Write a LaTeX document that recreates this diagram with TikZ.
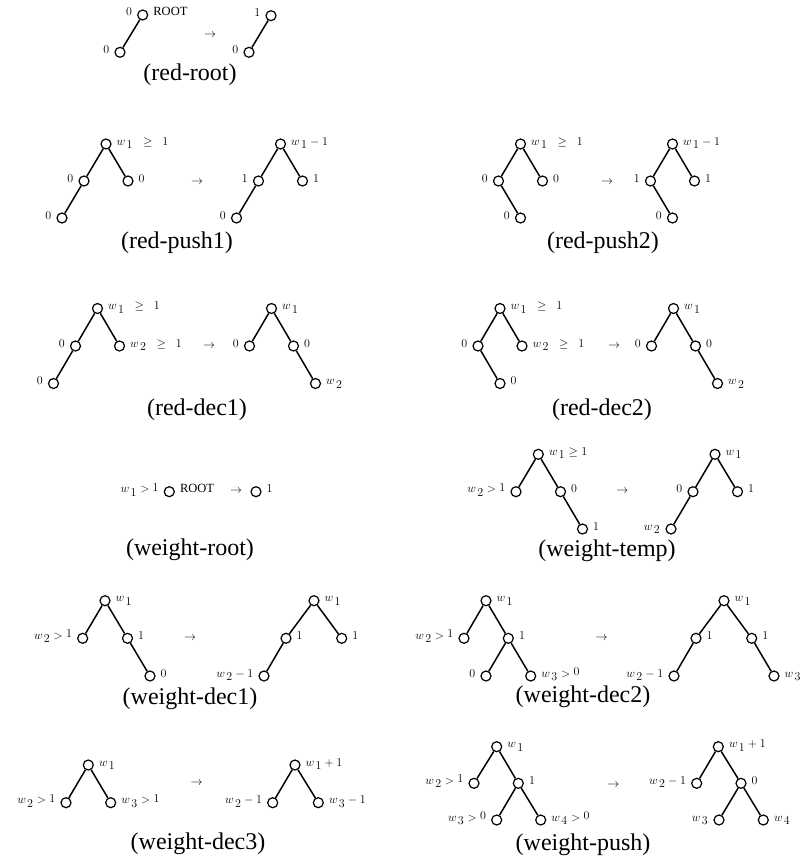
\documentclass[tikz,border=0pt]{standalone}
\usepackage{fontspec}
\setmainfont{Liberation Serif}
\newcommand\lblfont{\fontsize{13}{15}\selectfont}
\newcommand\arrfont{\fontsize{13}{15}\selectfont}
\newcommand\capfont{\fontsize{24}{28}\selectfont}
\newcommand\rootfont{\fontsize{12.5}{14}\selectfont}
\newcommand\ww[1]{w_{\,\textstyle #1}}
\newcommand\rs[1]{\raisebox{1.5pt}{$#1$}}
\tikzset{
 vtxst/.style={circle,draw,line width=1.2pt,minimum size=10pt,inner sep=0pt},
 edg/.style={line width=1.5pt},
 lr/.style={anchor=base west,inner sep=0pt,font=\lblfont},
 ll/.style={anchor=base east,inner sep=0pt,font=\lblfont},
 arr/.style={inner sep=0pt,font=\arrfont},
 captxt/.style={inner sep=0pt,font=\capfont},
}
\newcommand\vtx[2]{\node[vtxst] (#1) at (#2) {};}
\newcommand\labR[2]{\node[lr] (#1R) at ([xshift=10.5pt,yshift=-1pt]#1.center) {#2};}
\newcommand\labL[2]{\node[ll] (#1L) at ([xshift=-10.5pt,yshift=-1pt]#1.center) {#2};}
\begin{document}
\begin{tikzpicture}[x=1pt,y=-1pt]
\useasboundingbox (0,0) rectangle (806,859);
% ---------- red-root
\vtx{ra}{142.7,15} \vtx{rb}{120,52.3}
\labL{ra}{$0$} \labR{ra}{\rootfont ROOT} \labL{rb}{$0$}
\draw[edg] (rb) -- (ra);
\node[arr] (rarr) at (210,35) {$\rightarrow$};
\vtx{sa}{271,15.7} \vtx{sb}{249,52.3}
\labL{sa}{$1$} \labL{sb}{$0$}
\draw[edg] (sb) -- (sa);
\node[captxt] (rcap) at (190,75) {(red-root)};
% ---------- red-push1
\vtx{pa}{106,144} \vtx{pb}{84,181} \vtx{pc}{128,181} \vtx{pd}{62,218}
\labR{pa}{$\ww1\;\;\geq\;\;1$} \labL{pb}{$0$} \labR{pc}{$0$} \labL{pd}{$0$}
\draw[edg] (pa) -- (pb); \draw[edg] (pa) -- (pc); \draw[edg] (pb) -- (pd);
\node[arr] (parr) at (197,182) {$\rightarrow$};
\vtx{qa}{280.5,144} \vtx{qb}{258.5,181} \vtx{qc}{302.5,181} \vtx{qd}{236.5,218}
\labR{qa}{$\ww1-1$} \labL{qb}{$1$} \labR{qc}{$1$} \labL{qd}{$0$}
\draw[edg] (qa) -- (qb); \draw[edg] (qa) -- (qc); \draw[edg] (qb) -- (qd);
\node[captxt] (pcap) at (177,243) {(red-push1)};
% ---------- red-push2
\vtx{ta}{520.5,144} \vtx{tb}{498.5,181} \vtx{tc}{542.5,181} \vtx{td}{520.5,218}
\labR{ta}{$\ww1\;\;\geq\;\;1$} \labL{tb}{$0$} \labR{tc}{$0$} \labL{td}{$0$}
\draw[edg] (ta) -- (tb); \draw[edg] (ta) -- (tc); \draw[edg] (tb) -- (td);
\node[arr] (tarr) at (607,182) {$\rightarrow$};
\vtx{ua}{672.5,144} \vtx{ub}{650.5,181} \vtx{uc}{694.5,181} \vtx{ud}{672.5,218}
\labR{ua}{$\ww1-1$} \labL{ub}{$1$} \labR{uc}{$1$} \labL{ud}{$0$}
\draw[edg] (ua) -- (ub); \draw[edg] (ua) -- (uc); \draw[edg] (ub) -- (ud);
\node[captxt] (tcap) at (603,243) {(red-push2)};
% ---------- red-dec1
\vtx{da}{97.5,308.5} \vtx{db}{75.5,346} \vtx{dc}{119.5,346} \vtx{dd}{53.5,383.5}
\labR{da}{$\ww1\;\;\geq\;\;1$} \labL{db}{$0$} \labR{dc}{$\ww2\;\;\geq\;\;1$} \labL{dd}{$0$}
\draw[edg] (da) -- (db); \draw[edg] (da) -- (dc); \draw[edg] (db) -- (dd);
\node[arr] (darr) at (209,346) {$\rightarrow$};
\vtx{ea}{271.5,308.5} \vtx{eb}{249.5,346} \vtx{ec}{293.5,346} \vtx{ed}{315.5,383.5}
\labR{ea}{$\ww1$} \labL{eb}{$0$} \labR{ec}{$0$} \labR{ed}{$\ww2$}
\draw[edg] (ea) -- (eb); \draw[edg] (ea) -- (ec); \draw[edg] (ec) -- (ed);
\node[captxt] (dcap) at (197,410) {(red-dec1)};
% ---------- red-dec2
\vtx{fa}{500,308.5} \vtx{fb}{478,346} \vtx{fc}{522,346} \vtx{fd}{500,383.5}
\labR{fa}{$\ww1\;\;\geq\;\;1$} \labL{fb}{$0$} \labR{fc}{$\ww2\;\;\geq\;\;1$} \labR{fd}{$0$}
\draw[edg] (fa) -- (fb); \draw[edg] (fa) -- (fc); \draw[edg] (fb) -- (fd);
\node[arr] (farr) at (614,346) {$\rightarrow$};
\vtx{ga}{673.5,308.5} \vtx{gb}{651.5,346} \vtx{gc}{695.5,346} \vtx{gd}{717.5,383.5}
\labR{ga}{$\ww1$} \labL{gb}{$0$} \labR{gc}{$0$} \labR{gd}{$\ww2$}
\draw[edg] (ga) -- (gb); \draw[edg] (ga) -- (gc); \draw[edg] (gc) -- (gd);
\node[captxt] (fcap) at (602,410) {(red-dec2)};
% ---------- weight-root
\vtx{wa}{169.3,491.7}
\labL{wa}{$\ww1 > \rs1$} \labR{wa}{\rootfont ROOT}
\node[arr] (warr) at (236,491.7) {$\rightarrow$};
\vtx{xa}{256,491.7}
\labR{xa}{$1$}
\node[captxt] (wcap) at (190,550) {(weight-root)};
% ---------- weight-temp
\vtx{ha}{538.3,454.3} \vtx{hb}{516,491.7} \vtx{hc}{560.5,491.7} \vtx{hd}{582.5,529}
\labR{ha}{$\ww1\geq 1$} \labL{hb}{$\ww2 > \rs1$} \labR{hc}{$0$} \labR{hd}{$1$}
\draw[edg] (ha) -- (hb); \draw[edg] (ha) -- (hc); \draw[edg] (hc) -- (hd);
\node[arr] (harr) at (622.3,491.7) {$\rightarrow$};
\vtx{ia}{715,454.3} \vtx{ib}{693,491.7} \vtx{ic}{737.5,491.7} \vtx{id}{671,529}
\labR{ia}{$\ww1$} \labL{ib}{$0$} \labR{ic}{$1$} \labL{id}{$\ww2$}
\draw[edg] (ia) -- (ib); \draw[edg] (ia) -- (ic); \draw[edg] (ib) -- (id);
\node[captxt] (hcap) at (607,551) {(weight-temp)};
% ---------- weight-dec1
\vtx{ja}{105,600.7} \vtx{jb}{82.7,638.3} \vtx{jc}{127.5,638.3} \vtx{jd}{150,676}
\labR{ja}{$\ww1$} \labL{jb}{$\ww2 > \rs1$} \labR{jc}{$1$} \labR{jd}{$0$}
\draw[edg] (ja) -- (jb); \draw[edg] (ja) -- (jc); \draw[edg] (jc) -- (jd);
\node[arr] (jarr) at (190,638.3) {$\rightarrow$};
\vtx{ka}{314,600.7} \vtx{kb}{286,638.3} \vtx{kc}{341.7,638.3} \vtx{kd}{264,676}
\labR{ka}{$\ww1$} \labR{kb}{$1$} \labR{kc}{$1$} \labL{kd}{$\ww2-1$}
\draw[edg] (ka) -- (kb); \draw[edg] (ka) -- (kc); \draw[edg] (kb) -- (kd);
\node[captxt] (jcap) at (190,699) {(weight-dec1)};
% ---------- weight-dec2
\vtx{la}{486,600.7} \vtx{lb}{464,638.3} \vtx{lc}{508.3,638.3} \vtx{ld}{486,676} \vtx{le}{530.7,676}
\labR{la}{$\ww1$} \labL{lb}{$\ww2 > \rs1$} \labR{lc}{$1$} \labL{ld}{$0$} \labR{le}{$\ww3 > \rs0$}
\draw[edg] (la) -- (lb); \draw[edg] (la) -- (lc); \draw[edg] (lc) -- (ld); \draw[edg] (lc) -- (le);
\node[arr] (larr) at (601.7,638.3) {$\rightarrow$};
\vtx{ma}{724,600.7} \vtx{mb}{696,638.3} \vtx{mc}{751.7,638.3} \vtx{md}{674,676} \vtx{me}{774,676}
\labR{ma}{$\ww1$} \labR{mb}{$1$} \labR{mc}{$1$} \labL{md}{$\ww2-1$} \labR{me}{$\ww3$}
\draw[edg] (ma) -- (mb); \draw[edg] (ma) -- (mc); \draw[edg] (mb) -- (md); \draw[edg] (mc) -- (me);
\node[captxt] (lcap) at (583,697) {(weight-dec2)};
% ---------- weight-dec3
\vtx{na}{88.3,765} \vtx{nb}{66,802.7} \vtx{nc}{110.7,802.7}
\labR{na}{$\ww1$} \labL{nb}{$\ww2 > \rs1$} \labR{nc}{$\ww3 > \rs1$}
\draw[edg] (na) -- (nb); \draw[edg] (na) -- (nc);
\node[arr] (narr) at (196.7,783.3) {$\rightarrow$};
\vtx{oa}{295,765} \vtx{ob}{272.7,802.7} \vtx{oc}{318.3,802.7}
\labR{oa}{$\ww1+1$} \labL{ob}{$\ww2-1$} \labR{oc}{$\ww3-1$}
\draw[edg] (oa) -- (ob); \draw[edg] (oa) -- (oc);
\node[captxt] (ncap) at (198,844) {(weight-dec3)};
% ---------- weight-push
\vtx{ya}{496.7,746.7} \vtx{yb}{474,783.3} \vtx{yc}{518.3,783.3} \vtx{yd}{496.7,820} \vtx{ye}{540.7,820}
\labR{ya}{$\ww1$} \labL{yb}{$\ww2 > \rs1$} \labR{yc}{$1$} \labL{yd}{$\ww3 > \rs0$} \labR{ye}{$\ww4 > \rs0$}
\draw[edg] (ya) -- (yb); \draw[edg] (ya) -- (yc); \draw[edg] (yc) -- (yd); \draw[edg] (yc) -- (ye);
\node[arr] (yarr) at (613.3,785) {$\rightarrow$};
\vtx{za}{718.3,746.7} \vtx{zb}{696.7,783.3} \vtx{zc}{741,783.3} \vtx{zd}{719,820} \vtx{ze}{763.3,820}
\labR{za}{$\ww1+1$} \labL{zb}{$\ww2-1$} \labR{zc}{$0$} \labL{zd}{$\ww3$} \labR{ze}{$\ww4$}
\draw[edg] (za) -- (zb); \draw[edg] (za) -- (zc); \draw[edg] (zc) -- (zd); \draw[edg] (zc) -- (ze);
\node[captxt] (ycap) at (583,845) {(weight-push)};
\end{tikzpicture}
\end{document}
